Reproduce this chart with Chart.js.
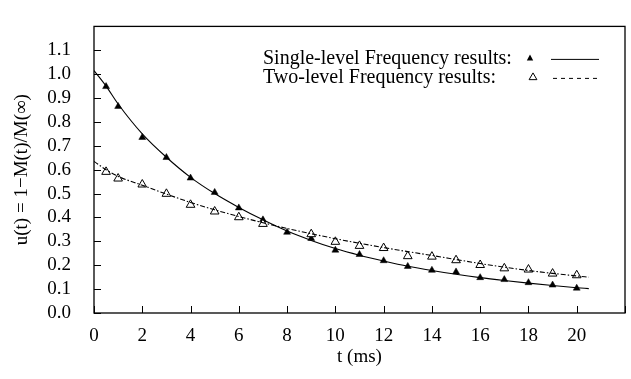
<!DOCTYPE html>
<html>
<head>
<meta charset="utf-8">
<script src="https://cdn.jsdelivr.net/npm/chart.js@4"></script>
<style>
  body { margin: 0; background: #fff; }
  #wrap { width: 631px; height: 379px; }
</style>
</head>
<body>
<div id="wrap"><canvas id="myChart"></canvas></div>
<script>
// measured points (triangles)
const singleT = [0.5, 1, 2, 3, 4, 5, 6, 7, 8, 9, 10, 11, 12, 13, 14, 15, 16, 17, 18, 19, 20];
const singleVals = [0.948, 0.865, 0.735, 0.651, 0.565, 0.505, 0.440, 0.390, 0.338, 0.312, 0.263, 0.245, 0.219, 0.195, 0.179, 0.172, 0.148, 0.140, 0.127, 0.117, 0.104];
const twoT = [0.5, 1, 2, 3, 4, 5, 6, 7, 9, 10, 11, 12, 13, 14, 15, 16, 17, 18, 19, 20];
const twoVals = [0.591, 0.563, 0.538, 0.499, 0.453, 0.425, 0.401, 0.373, 0.330, 0.298, 0.281, 0.272, 0.238, 0.236, 0.221, 0.201, 0.187, 0.182, 0.165, 0.158];

// fitted curves
const fitT = [0, 0.5, 1, 2, 3, 4, 5, 6, 7, 8, 9, 10, 11, 12, 13, 14, 15, 16, 17, 18, 19, 20, 20.5];
const singleFit = [1.015, 0.950, 0.875, 0.750, 0.652, 0.568, 0.500, 0.442, 0.390, 0.343, 0.304, 0.270, 0.242, 0.218, 0.196, 0.178, 0.162, 0.148, 0.136, 0.125, 0.115, 0.106, 0.102];
const twoFit = [0.635, 0.600, 0.572, 0.535, 0.498, 0.463, 0.432, 0.404, 0.378, 0.354, 0.332, 0.311, 0.292, 0.274, 0.257, 0.241, 0.224, 0.207, 0.192, 0.178, 0.166, 0.155, 0.150];

const legendLabels = ['Single-level Frequency results:', 'Two-level Frequency results:'];
const xTitle = 't (ms)';
const yTitle = 'u(t) = 1\u2212M(t)/M(\u221e)';

const pts = (xs, ys) => xs.map((x, i) => ({x: x, y: ys[i]}));

const serif = '"Liberation Serif", "DejaVu Serif", serif';
Chart.defaults.color = '#000';
Chart.defaults.font.family = serif;
Chart.defaults.font.size = 19;

const DASH = [5, 2, 1.5, 2];

// box, inward ticks, legend
const frame = {
  id: 'frame',
  afterDraw(chart) {
    const {ctx, chartArea: a, scales: {x, y}} = chart;
    ctx.save();
    ctx.strokeStyle = '#000';
    ctx.lineWidth = 1.3;
    ctx.strokeRect(a.left, a.top, a.right - a.left, a.bottom - a.top);
    ctx.lineWidth = 1;
    ctx.beginPath();
    x.ticks.forEach(t => {
      const px = Math.round(x.getPixelForValue(t.value)) + 0.5;
      ctx.moveTo(px, a.bottom); ctx.lineTo(px, a.bottom - 7);
    });
    y.ticks.forEach(t => {
      const py = Math.round(y.getPixelForValue(t.value)) + 0.5;
      ctx.moveTo(a.left, py); ctx.lineTo(a.left + 7, py);
    });
    ctx.stroke();

    // legend
    const lx = a.left + 169, rows = [a.top + 32, a.top + 51];
    ctx.font = '20px ' + serif;
    ctx.textBaseline = 'middle';
    ctx.fillStyle = '#000';
    legendLabels.forEach((txt, i) => ctx.fillText(txt, lx, rows[i]));
    // markers
    ctx.beginPath();
    const m1x = a.left + 436, r1 = 4;
    ctx.moveTo(m1x, rows[0] - r1);
    ctx.lineTo(m1x + r1 * 0.8, rows[0] + r1 / 2);
    ctx.lineTo(m1x - r1 * 0.8, rows[0] + r1 / 2);
    ctx.closePath(); ctx.fill();
    ctx.beginPath();
    const m2x = a.left + 439, r2 = 4.5;
    ctx.moveTo(m2x, rows[1] - r2);
    ctx.lineTo(m2x + r2 * 0.87, rows[1] + r2 / 2);
    ctx.lineTo(m2x - r2 * 0.87, rows[1] + r2 / 2);
    ctx.closePath(); ctx.stroke();
    // line samples
    ctx.beginPath();
    ctx.moveTo(a.left + 457, rows[0] + 1); ctx.lineTo(a.left + 505, rows[0] + 1);
    ctx.stroke();
    ctx.setLineDash([4, 4]);
    ctx.beginPath();
    ctx.moveTo(a.left + 459, rows[1] + 1); ctx.lineTo(a.left + 505, rows[1] + 1);
    ctx.stroke();
    ctx.restore();
  }
};

new Chart(document.getElementById('myChart'), {
  type: 'line',
  data: {
    datasets: [
      {
        label: 'single fit',
        data: pts(fitT, singleFit),
        borderColor: '#000',
        borderWidth: 1.1,
        pointRadius: 0,
        cubicInterpolationMode: 'monotone'
      },
      {
        label: 'two fit',
        data: pts(fitT, twoFit),
        borderColor: '#000',
        borderWidth: 1.1,
        borderDash: DASH,
        pointRadius: 0,
        cubicInterpolationMode: 'monotone'
      },
      {
        label: legendLabels[1],
        data: pts(twoT, twoVals),
        showLine: false,
        pointStyle: 'triangle',
        pointRadius: 5,
        pointBackgroundColor: '#fff',
        pointBorderColor: '#000',
        pointBorderWidth: 1
      },
      {
        label: legendLabels[0],
        data: pts(singleT, singleVals),
        showLine: false,
        pointStyle: 'triangle',
        pointRadius: 4,
        pointBackgroundColor: '#000',
        pointBorderColor: '#000',
        pointBorderWidth: 0.5
      }
    ]
  },
  options: {
    responsive: true,
    maintainAspectRatio: false,
    animation: false,
    layout: { padding: { top: 10, right: 3, left: 0, bottom: 0 } },
    plugins: {
      legend: { display: false },
      tooltip: { enabled: false }
    },
    scales: {
      x: {
        type: 'linear',
        min: 0,
        max: 22,
        grid: { display: false },
        border: { display: false },
        ticks: {
          stepSize: 2,
          padding: 4,
          maxRotation: 0,
          autoSkip: false,
          callback: v => (v > 20 ? '' : v)
        },
        title: { display: true, text: xTitle, padding: { top: 0, bottom: 11 } },
        afterFit: s => { s.height = 66; }
      },
      y: {
        min: 0,
        max: 1.2,
        grid: { display: false },
        border: { display: false },
        ticks: {
          stepSize: 0.1,
          padding: 15,
          autoSkip: false,
          callback: v => (v > 1.15 ? '' : v.toFixed(1))
        },
        title: { display: true, text: yTitle, padding: { top: 11, bottom: 0 } },
        afterFit: s => { s.width = 94; }
      }
    }
  },
  plugins: [frame]
});
</script>
</body>
</html>
